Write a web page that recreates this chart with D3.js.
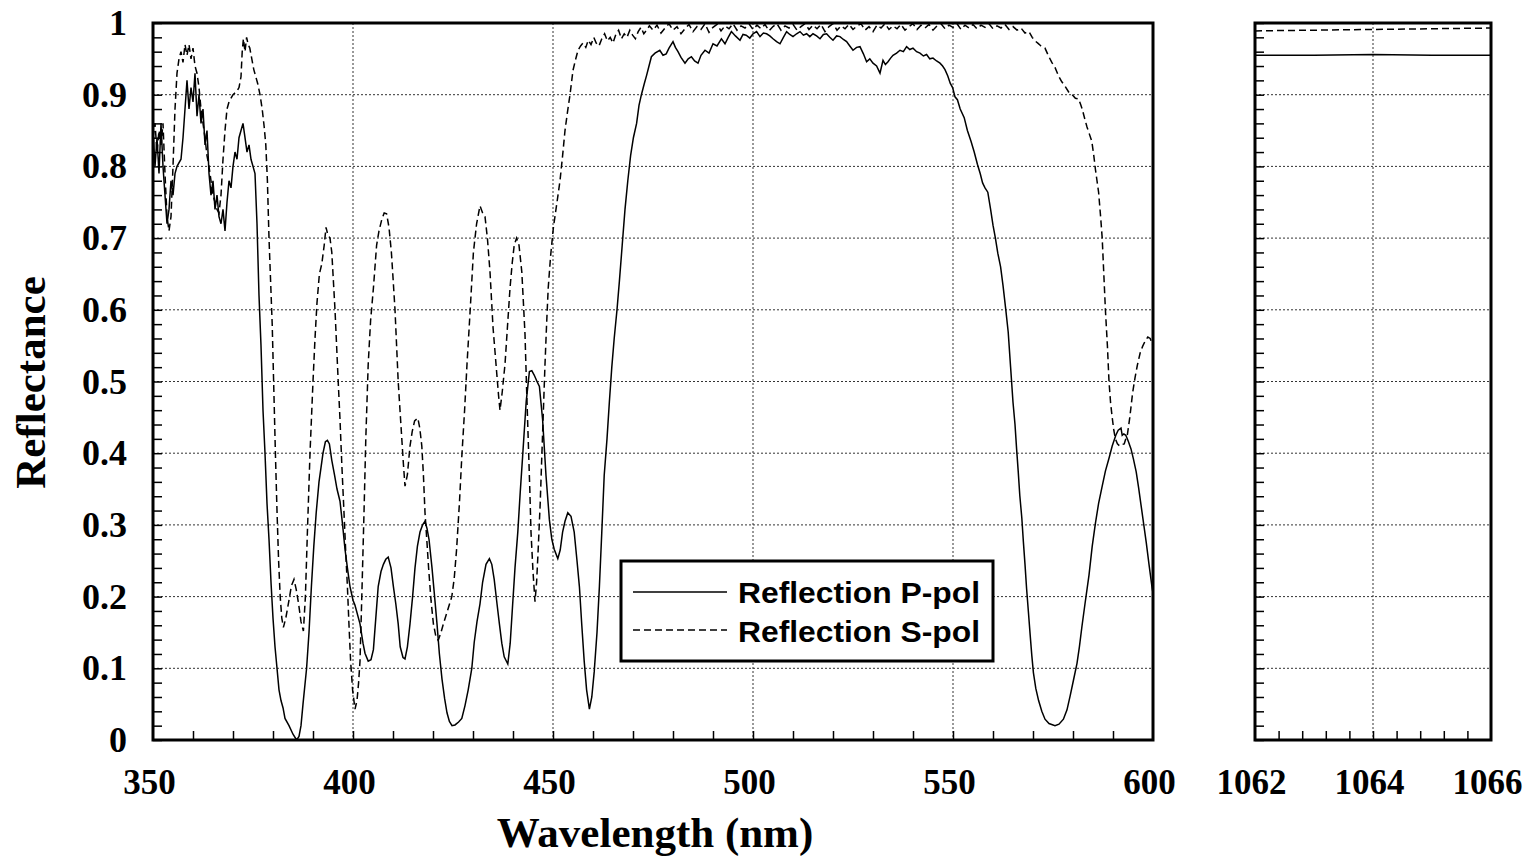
<!DOCTYPE html>
<html>
<head>
<meta charset="utf-8">
<script src="https://cdn.jsdelivr.net/npm/d3@7"></script>
<style>
  html, body { margin: 0; padding: 0; background: #fff; }
  svg { display: block; }
</style>
</head>
<body>
<svg id="chart" width="1536" height="865"></svg>
<script>
// Measured reflectance of the coating, [wavelength nm, reflectance]
const pPolVisible = [
  [350,0.85],[350.5,0.80],[351,0.84],[351.5,0.79],[352,0.86],[352.5,0.80],[353,0.76],[353.5,0.72],
  [354,0.74],[354.5,0.78],[355,0.76],[355.5,0.79],[356,0.80],[357,0.81],[357.5,0.84],[358,0.88],
  [358.5,0.92],[359,0.88],[359.5,0.91],[360,0.89],[360.5,0.93],[361,0.87],[361.5,0.90],[362,0.86],
  [362.5,0.88],[363,0.83],[363.5,0.85],[364,0.79],[364.5,0.76],[365,0.78],[365.5,0.74],[366,0.76],
  [366.5,0.73],[367,0.72],[367.5,0.74],[368,0.71],[368.5,0.75],[369,0.78],[369.5,0.77],[370,0.80],
  [370.5,0.82],[371,0.81],[371.5,0.84],[372,0.85],[372.5,0.86],[373,0.84],[373.5,0.82],[374,0.83],
  [374.5,0.81],[375,0.80],[375.5,0.79],[376,0.72],[376.5,0.62],[377,0.55],[377.5,0.46],[378,0.40],
  [378.5,0.33],[379,0.28],[379.5,0.22],[380,0.17],[380.5,0.13],[381,0.10],[381.5,0.07],[382,0.055],
  [382.5,0.045],[383,0.03],[384,0.02],[385,0.008],[385.9,0.0],[386.5,0.005],[387,0.02],[387.5,0.05],
  [388.4,0.10],[389,0.15],[389.6,0.214],[390.2,0.27],[390.8,0.317],[391.5,0.36],[392,0.38],[392.5,0.40],
  [393.1,0.416],[393.6,0.418],[394.1,0.413],[394.7,0.39],[395.4,0.369],[396,0.35],[396.75,0.333],[397.4,0.30],
  [398,0.266],[398.6,0.24],[399.25,0.214],[400,0.195],[400.5,0.188],[401.75,0.162],[402.5,0.135],[403,0.121],
  [403.8,0.11],[404.5,0.112],[405.1,0.126],[405.7,0.17],[406.3,0.214],[407,0.235],[407.6,0.245],[408.2,0.252],
  [408.8,0.255],[409.5,0.24],[410.1,0.214],[410.7,0.19],[411.3,0.162],[411.8,0.13],[412.5,0.115],[413,0.113],
  [413.6,0.13],[414.25,0.162],[414.9,0.2],[415.5,0.24],[416.1,0.27],[416.75,0.29],[417.4,0.30],[418,0.305],
  [418.5,0.295],[419,0.28],[419.75,0.24],[420.4,0.20],[421,0.162],[421.6,0.12],[422.25,0.085],[422.9,0.058],
  [423.5,0.038],[424.1,0.026],[424.75,0.02],[425.5,0.021],[426.4,0.025],[427.2,0.03],[428,0.048],[428.8,0.07],
  [429.7,0.1],[430.3,0.136],[431,0.165],[431.75,0.19],[432.4,0.22],[433.25,0.245],[434.1,0.253],[434.7,0.245],
  [435.3,0.224],[436,0.19],[436.6,0.162],[437.2,0.135],[437.8,0.116],[438.7,0.106],[439.3,0.135],[439.9,0.188],
  [440.5,0.24],[441.2,0.29],[441.8,0.345],[442.4,0.395],[443.3,0.472],[444.1,0.514],[444.7,0.515],[445.3,0.509],
  [446,0.50],[446.6,0.493],[447.4,0.447],[448.25,0.369],[449.1,0.307],[449.7,0.28],[450.3,0.266],[451.2,0.253],
  [451.8,0.265],[452.4,0.29],[453,0.305],[453.7,0.317],[454.5,0.312],[455.3,0.29],[456,0.25],[456.6,0.214],
  [457.2,0.16],[457.8,0.11],[458.4,0.07],[459.1,0.043],[459.7,0.06],[460.3,0.095],[461,0.15],[461.6,0.214],
  [462.2,0.29],[462.8,0.369],[463.5,0.42],[464.1,0.472],[464.7,0.52],[465.3,0.56],[466,0.60],[466.6,0.64],
  [467.3,0.69],[468,0.74],[468.7,0.78],[469.4,0.815],[470.1,0.84],[470.9,0.86],[471.5,0.885],[472.1,0.90],
  [472.8,0.915],[473.4,0.927],[474,0.94],[474.6,0.953],[475.5,0.958],[476.7,0.962],[477.5,0.955],[478.3,0.957],
  [479,0.965],[480,0.974],[480.6,0.966],[481.25,0.96],[482,0.952],[483,0.944],[483.8,0.95],[484.6,0.953],
  [485.4,0.947],[486.25,0.944],[487,0.955],[488,0.962],[489,0.958],[490,0.971],[491,0.968],[492.1,0.978],
  [493,0.971],[493.8,0.98],[494.6,0.988],[495.6,0.982],[496.75,0.976],[497.5,0.984],[498.3,0.983],[499.2,0.979],
  [500,0.985],[500.9,0.988],[501.75,0.981],[502.6,0.986],[503.4,0.985],[504.2,0.982],[505,0.978],[505.9,0.974],
  [506.75,0.971],[507.6,0.98],[508.4,0.988],[509.2,0.984],[510,0.981],[510.9,0.985],[511.75,0.988],[512.6,0.983],
  [513.4,0.985],[514.2,0.981],[515,0.985],[515.9,0.982],[516.75,0.978],[517.6,0.984],[518.4,0.985],[519.2,0.98],
  [520,0.976],[520.9,0.982],[521.75,0.981],[522.6,0.977],[523.4,0.974],[524.2,0.968],[525,0.962],[525.9,0.966],
  [526.75,0.967],[527.6,0.957],[528.4,0.946],[529.2,0.95],[530,0.944],[530.9,0.94],[531.75,0.93],[532.5,0.948],
  [533.1,0.942],[533.75,0.946],[534.4,0.951],[535,0.955],[535.9,0.958],[536.75,0.962],[537.6,0.96],[538.4,0.967],
  [539.2,0.963],[540,0.965],[540.9,0.96],[541.75,0.958],[542.6,0.954],[543.4,0.956],[544.2,0.95],[545,0.951],
  [545.9,0.947],[546.75,0.944],[547.4,0.94],[548,0.935],[548.7,0.926],[549.3,0.916],[549.9,0.91],[550.5,0.897],
  [551.1,0.893],[551.8,0.88],[552.8,0.868],[553.6,0.85],[554.5,0.835],[555.3,0.82],[556.1,0.803],[556.8,0.79],
  [557.4,0.777],[558,0.77],[558.7,0.764],[559.4,0.74],[560,0.718],[560.6,0.70],[561.2,0.679],[561.9,0.66],
  [562.5,0.634],[563.2,0.60],[563.8,0.569],[564.4,0.52],[565,0.471],[565.5,0.44],[565.9,0.406],[566.3,0.375],
  [566.7,0.341],[567.2,0.31],[567.6,0.276],[568,0.245],[568.4,0.211],[568.9,0.175],[569.3,0.146],[569.7,0.118],
  [570.1,0.094],[570.7,0.072],[571.4,0.055],[572.2,0.04],[573,0.029],[574,0.023],[575.5,0.02],[576.5,0.022],
  [577.6,0.029],[578.5,0.042],[579.3,0.062],[580.1,0.083],[581,0.107],[581.6,0.13],[582.25,0.159],[583,0.19],
  [584,0.23],[584.8,0.27],[585.6,0.302],[586.4,0.33],[587.3,0.354],[588.1,0.375],[589,0.393],[589.8,0.41],
  [590.7,0.425],[591.3,0.432],[592,0.435],[592.3,0.425],[592.7,0.427],[593.2,0.425],[593.8,0.417],[594.5,0.406],
  [595.1,0.392],[595.8,0.374],[596.4,0.352],[597,0.328],[597.7,0.30],[598.3,0.276],[599,0.245],[599.8,0.211],
  [600,0.205]
];

const sPolVisible = [
  [350,0.84],[350.5,0.86],[351,0.82],[351.5,0.85],[352,0.83],[352.5,0.86],[353,0.79],[353.5,0.73],
  [354,0.71],[354.5,0.73],[355,0.80],[355.5,0.88],[356,0.93],[356.5,0.95],[357,0.96],[357.5,0.945],
  [358,0.97],[358.5,0.955],[359,0.97],[359.5,0.95],[360,0.965],[360.5,0.94],[361,0.93],[361.5,0.91],
  [362,0.88],[362.5,0.86],[363,0.84],[363.5,0.815],[364,0.80],[364.5,0.78],[365,0.76],[365.5,0.75],
  [366,0.74],[366.5,0.735],[367,0.76],[367.5,0.81],[368,0.85],[368.5,0.88],[369,0.89],[370,0.90],
  [371,0.905],[371.5,0.91],[372,0.925],[372.3,0.96],[372.6,0.978],[373,0.96],[373.4,0.98],[373.8,0.97],
  [374.2,0.965],[374.7,0.95],[375.2,0.935],[375.7,0.925],[376.2,0.915],[376.75,0.90],[377.3,0.88],[377.8,0.855],
  [378.2,0.83],[378.6,0.78],[379,0.70],[379.4,0.64],[379.8,0.58],[380.2,0.49],[380.6,0.40],[381,0.32],
  [381.4,0.25],[381.8,0.20],[382.2,0.17],[382.6,0.157],[383.2,0.17],[384,0.195],[384.6,0.215],[385.25,0.224],
  [385.8,0.21],[386.4,0.19],[387,0.165],[387.6,0.152],[388.1,0.20],[388.6,0.29],[389.25,0.40],[390,0.50],
  [390.5,0.56],[391,0.61],[391.6,0.65],[392.2,0.664],[392.8,0.69],[393.25,0.715],[393.7,0.705],[394.25,0.70],
  [394.7,0.68],[395,0.65],[395.5,0.60],[395.9,0.55],[396.3,0.50],[396.75,0.447],[397.2,0.385],[397.75,0.317],
  [398.2,0.26],[398.6,0.214],[399,0.16],[399.4,0.11],[399.9,0.07],[400.5,0.043],[401,0.055],[401.4,0.08],
  [401.75,0.11],[402.2,0.20],[402.75,0.317],[403.2,0.42],[403.8,0.524],[404.4,0.585],[405.1,0.63],[405.9,0.69],
  [406.5,0.71],[407.2,0.726],[407.8,0.735],[408.4,0.734],[409,0.715],[409.6,0.68],[410,0.645],[410.5,0.60],
  [411.3,0.50],[412.2,0.42],[412.6,0.385],[413,0.354],[413.6,0.37],[414.25,0.41],[414.8,0.43],[415.4,0.445],
  [416.2,0.449],[416.7,0.435],[417.2,0.41],[417.6,0.37],[418,0.317],[418.5,0.275],[418.9,0.24],[419.5,0.195],
  [420.1,0.162],[420.7,0.145],[421.3,0.139],[422,0.15],[422.6,0.162],[423.6,0.18],[424.7,0.2],[425.3,0.225],
  [425.9,0.266],[426.6,0.33],[427.2,0.395],[427.9,0.46],[428.5,0.524],[429.3,0.6],[430.1,0.68],[430.9,0.72],
  [431.75,0.745],[432.4,0.735],[433,0.73],[433.6,0.70],[434.25,0.653],[435,0.576],[435.9,0.514],[436.4,0.48],
  [436.75,0.46],[437.3,0.485],[438,0.524],[438.6,0.575],[439.25,0.63],[439.8,0.665],[440.3,0.69],[440.9,0.70],
  [441.5,0.69],[442.2,0.653],[442.6,0.61],[443,0.566],[443.4,0.49],[443.8,0.42],[444.2,0.35],[444.5,0.29],
  [445,0.235],[445.5,0.193],[445.9,0.22],[446.3,0.266],[446.8,0.33],[447.2,0.395],[447.6,0.46],[448,0.524],
  [448.4,0.58],[448.8,0.63],[449.4,0.675],[450.1,0.715],[451,0.75],[451.75,0.78],[452.4,0.815],[453,0.85],
  [453.6,0.875],[454.25,0.90],[455,0.934],[455.6,0.948],[456.25,0.962],[456.9,0.968],[457.5,0.972],[458.2,0.966],
  [458.8,0.976],[459.5,0.97],[460.2,0.98],[460.8,0.972],[461.5,0.968],[462.2,0.978],[462.9,0.985],[463.6,0.975],
  [464.3,0.98],[465,0.972],[465.7,0.984],[466.4,0.99],[467.1,0.978],[467.8,0.985],[468.5,0.98],[469.2,0.99],
  [469.9,0.983],[470.6,0.978],[471.3,0.988],[472,0.994],[472.7,0.985],[473.4,0.99],[474.1,0.996],[475,0.99],
  [476,0.997],[477,0.986],[478,0.993],[479,0.999],[480,0.99],[481,0.995],[482,0.985],[483,0.992],
  [484,0.998],[485,0.988],[486,0.995],[487,0.991],[488,0.999],[489,0.987],[490,0.994],[491,0.998],
  [492,0.989],[493,0.996],[494,0.992],[495,0.999],[496,0.99],[497,0.996],[498,0.993],[499,0.999],
  [500,0.991],[501,0.997],[502,0.992],[503,0.998],[504,0.989],[505,0.995],[506,0.999],[507,0.99],
  [508,0.996],[509,0.993],[510,0.998],[511,0.99],[512,0.995],[513,0.999],[514,0.991],[515,0.997],
  [516,0.992],[517,0.998],[518,0.988],[519,0.995],[520,0.999],[521,0.99],[522,0.996],[523,0.992],
  [524,0.998],[525,0.991],[526,0.996],[527,0.999],[528,0.99],[529,0.995],[530,0.988],[531,0.997],
  [532,0.993],[533,0.999],[534,0.991],[535,0.996],[536,0.992],[537,0.998],[538,0.99],[539,0.995],
  [540,0.999],[541,0.991],[542,0.997],[543,0.993],[544,0.998],[545,0.99],[546,0.996],[547,0.999],
  [548,0.992],[549,0.997],[550,0.994],[551,0.999],[552,0.991],[553,0.997],[554,0.993],[555,0.998],
  [556,0.992],[557,0.997],[558,0.994],[559,0.999],[560,0.992],[561,0.996],[562,0.993],[563,0.998],
  [564,0.991],[565,0.995],[566,0.99],[567,0.993],[568,0.986],[569,0.988],[569.8,0.98],[570.5,0.975],
  [571.2,0.972],[572,0.968],[573,0.965],[573.8,0.955],[574.7,0.945],[575.5,0.938],[576.4,0.926],[577.2,0.918],
  [578,0.912],[579,0.903],[579.8,0.90],[580.6,0.895],[581.4,0.894],[582,0.885],[582.3,0.88],[583,0.865],
  [583.5,0.855],[584.1,0.845],[584.7,0.835],[585.2,0.815],[585.6,0.796],[586,0.78],[586.4,0.764],[586.9,0.73],
  [587.3,0.70],[587.7,0.65],[588.1,0.60],[588.6,0.55],[589,0.50],[589.4,0.47],[589.8,0.45],[590.2,0.432],
  [590.6,0.42],[591.1,0.413],[591.7,0.41],[592.2,0.412],[592.8,0.413],[593.2,0.42],[593.6,0.426],[594.2,0.45],
  [594.9,0.484],[595.5,0.505],[596.1,0.523],[596.8,0.54],[597.4,0.549],[598,0.556],[598.7,0.562],[599.3,0.56],
  [600,0.55]
];

// Reflectance around the 1064 nm laser line
const pPolLaser = [[1062,0.955],[1063,0.955],[1064,0.956],[1065,0.955],[1066,0.955]];
const sPolLaser = [[1062,0.989],[1063,0.990],[1064,0.991],[1065,0.992],[1066,0.993]];

// Axis ticks
const visTicks = [350, 400, 450, 500, 550, 600];
const visGrid = [400, 450, 500, 550];
const laserTicks = [1062, 1064, 1066];
const laserGrid = [1064];
const reflTicks = [0, 0.1, 0.2, 0.3, 0.4, 0.5, 0.6, 0.7, 0.8, 0.9, 1];
const reflTickText = ["0", "0.1", "0.2", "0.3", "0.4", "0.5", "0.6", "0.7", "0.8", "0.9", "1"];

const seriesNames = ["Reflection P-pol", "Reflection S-pol"];

// ---- layout ----
const svg = d3.select("#chart");
const plotTop = 23, plotBottom = 740;
const panelA = { x0: 153, x1: 1153 };
const panelB = { x0: 1255, x1: 1491 };

const y = d3.scaleLinear().domain([0, 1]).range([plotBottom, plotTop]);
const xA = d3.scaleLinear().domain([350, 600]).range([panelA.x0, panelA.x1]);
const xB = d3.scaleLinear().domain([1062, 1066]).range([panelB.x0, panelB.x1]);

const serif = "'Liberation Serif', 'Times New Roman', serif";
const sans = "'Liberation Sans', Arial, sans-serif";

const defs = svg.append("defs");

function drawPanel(id, x, xMinor, xGrid, xLabels, pData, sData, withYLabels) {
  const [x0, x1] = x.range();
  const g = svg.append("g").attr("class", id);

  defs.append("clipPath").attr("id", "clip-" + id)
    .append("rect").attr("x", x0).attr("y", plotTop).attr("width", x1 - x0).attr("height", plotBottom - plotTop);

  // dotted grid
  const grid = g.append("g").attr("stroke", "#333").attr("stroke-width", 1).attr("stroke-dasharray", "2,2");
  grid.selectAll("line.h").data(reflTicks.slice(1, -1)).join("line")
    .attr("x1", x0).attr("x2", x1).attr("y1", d => y(d)).attr("y2", d => y(d));
  grid.selectAll("line.v").data(xGrid).join("line")
    .attr("x1", d => x(d)).attr("x2", d => x(d)).attr("y1", plotTop).attr("y2", plotBottom);

  // minor ticks pointing inward
  const yMinor = d3.range(0, 1.0001, 0.02);
  g.append("g").attr("transform", `translate(${x0},0)`)
    .call(d3.axisRight(y).tickValues(yMinor).tickSize(9).tickFormat(""))
    .call(a => a.select(".domain").remove())
    .call(a => a.selectAll("line").attr("stroke", "#000").attr("stroke-width", 1.5));
  g.append("g").attr("transform", `translate(0,${plotBottom})`)
    .call(d3.axisTop(x).tickValues(xMinor).tickSize(9).tickFormat(""))
    .call(a => a.select(".domain").remove())
    .call(a => a.selectAll("line").attr("stroke", "#000").attr("stroke-width", 1.5));

  // x labels
  g.append("g").attr("transform", `translate(0,${plotBottom})`)
    .call(d3.axisBottom(x).tickValues(xLabels).tickSize(0).tickFormat(d3.format("d")))
    .call(a => a.select(".domain").remove())
    .call(a => a.selectAll("text")
      .attr("x", -4).attr("y", 54).attr("dy", null)
      .attr("font-family", serif).attr("font-weight", "bold").attr("font-size", 35).attr("fill", "#000"));

  if (withYLabels) {
    g.append("g").attr("transform", `translate(${x0},0)`)
      .call(d3.axisLeft(y).tickValues(reflTicks).tickSize(0).tickPadding(26)
        .tickFormat((d, i) => reflTickText[i]))
      .call(a => a.select(".domain").remove())
      .call(a => a.selectAll("text")
        .attr("font-family", serif).attr("font-weight", "bold").attr("font-size", 36).attr("fill", "#000"));
  }

  // curves
  const line = d3.line().x(d => x(d[0])).y(d => y(d[1]));
  const curves = g.append("g").attr("clip-path", `url(#clip-${id})`).attr("fill", "none").attr("stroke", "#000");
  curves.append("path").datum(pData).attr("d", line).attr("stroke-width", 1.5);
  curves.append("path").datum(sData).attr("d", line).attr("stroke-width", 1.5).attr("stroke-dasharray", "7,4");

  // frame
  g.append("rect").attr("x", x0).attr("y", plotTop).attr("width", x1 - x0).attr("height", plotBottom - plotTop)
    .attr("fill", "none").attr("stroke", "#000").attr("stroke-width", 3);
}

drawPanel("visible", xA, d3.range(360, 600, 10), visGrid, visTicks, pPolVisible, sPolVisible, true);
drawPanel("laser", xB, d3.range(1062.4, 1066, 0.4), laserGrid, laserTicks, pPolLaser, sPolLaser, false);

// axis titles
svg.append("text")
  .attr("x", (panelA.x0 + panelA.x1) / 2 + 2).attr("y", 847)
  .attr("text-anchor", "middle")
  .attr("font-family", serif).attr("font-weight", "bold").attr("font-size", 43)
  .text("Wavelength (nm)");

svg.append("text")
  .attr("transform", `translate(45,${(plotTop + plotBottom) / 2 + 1}) rotate(-90)`)
  .attr("text-anchor", "middle")
  .attr("font-family", serif).attr("font-weight", "bold").attr("font-size", 43)
  .text("Reflectance");

// legend
const lg = svg.append("g").attr("class", "legend");
lg.append("rect").attr("x", 621).attr("y", 561).attr("width", 372).attr("height", 100)
  .attr("fill", "#fff").attr("stroke", "#000").attr("stroke-width", 3);
const rows = [
  { name: seriesNames[0], dash: null, ly: 592, ty: 603 },
  { name: seriesNames[1], dash: "7,4", ly: 630, ty: 642 }
];
rows.forEach(r => {
  lg.append("line").attr("x1", 633).attr("x2", 727).attr("y1", r.ly).attr("y2", r.ly)
    .attr("stroke", "#000").attr("stroke-width", 1.5).attr("stroke-dasharray", r.dash);
  lg.append("text").attr("x", 738).attr("y", r.ty)
    .attr("font-family", sans).attr("font-weight", "bold").attr("font-size", 29)
    .attr("textLength", 242).attr("lengthAdjust", "spacingAndGlyphs")
    .text(r.name);
});
</script>
</body>
</html>
